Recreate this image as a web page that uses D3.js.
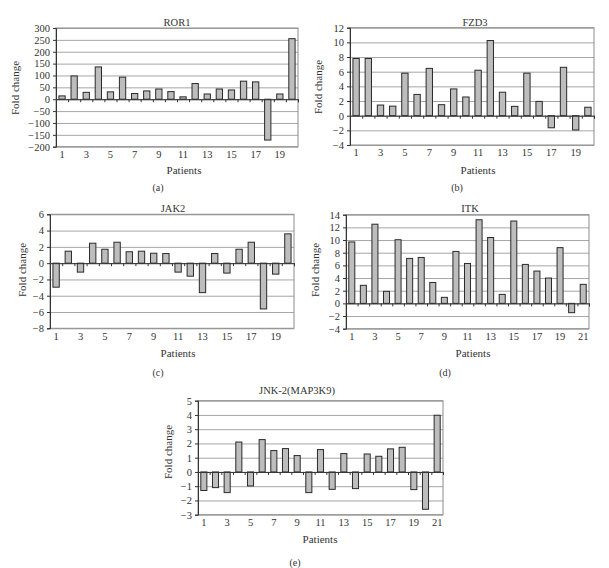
<!DOCTYPE html>
<html>
<head>
<meta charset="utf-8">
<script src="https://cdn.jsdelivr.net/npm/d3@7"></script>
<style>
  html, body { margin: 0; padding: 0; background: #fff; }
  text { font-family: "Liberation Serif", "DejaVu Serif", serif; fill: #333; }
</style>
</head>
<body>
<svg id="chart" width="609" height="568"></svg>
<script>
// ---------- DATA ----------
const ror1Values = [14, 98, 29, 136, 31, 93, 24, 35, 43, 32, 10, 66, 22, 43, 39, 76, 73, -172, 22, 255];
const fzd3Values = [7.8, 7.8, 1.45, 1.3, 5.8, 2.9, 6.45, 1.5, 3.65, 2.55, 6.2, 10.25, 3.2, 1.27, 5.8, 1.95, -1.65, 6.6, -1.95, 1.15];
const jak2Values = [-2.95, 1.47, -1.1, 2.45, 1.71, 2.57, 1.4, 1.47, 1.22, 1.18, -1.1, -1.6, -3.62, 1.18, -1.22, 1.71, 2.57, -5.62, -1.35, 3.6];
const itkValues = [9.7, 2.85, 12.5, 1.9, 10.05, 7.1, 7.25, 3.3, 0.95, 8.2, 6.3, 13.2, 10.4, 1.42, 13.0, 6.15, 5.1, 4.0, 8.8, -1.47, 3.0];
const jnk2Values = [-1.3, -1.1, -1.45, 2.1, -0.98, 2.27, 1.5, 1.64, 1.15, -1.45, 1.57, -1.22, 1.29, -1.17, 1.26, 1.1, 1.62, 1.73, -1.24, -2.62, 3.98];

const titles = ["ROR1", "FZD3", "JAK2", "ITK", "JNK-2(MAP3K9)"];
const captions = ["(a)", "(b)", "(c)", "(d)", "(e)"];
const yTicksRor1 = d3.range(-200, 301, 50);
const yTicksFzd3 = d3.range(-4, 13, 2);
const yTicksJak2 = d3.range(-8, 7, 2);
const yTicksItk = d3.range(-4, 15, 2);
const yTicksJnk2 = d3.range(-3, 6, 1);
const xLabel = "Patients";
const yLabel = "Fold change";

// ---------- LAYOUT ----------
const panels = [
  { values: ror1Values, ticks: yTicksRor1, box: [56, 298, 28, 146.7], title: [177, 22], ylab: [15, 88], xlab: [184, 170], cap: [158, 187] },
  { values: fzd3Values, ticks: yTicksFzd3, box: [350, 594, 27.7, 145], title: [475, 22], ylab: [318, 87], xlab: [478, 170], cap: [457, 187] },
  { values: jak2Values, ticks: yTicksJak2, box: [50, 294, 214.3, 328.3], title: [173, 208], ylab: [22, 270], xlab: [178, 353], cap: [158, 372] },
  { values: itkValues, ticks: yTicksItk, box: [346, 589, 214.7, 328.7], title: [470, 208], ylab: [315, 270], xlab: [473, 353], cap: [445, 372] },
  { values: jnk2Values, ticks: yTicksJnk2, box: [198, 443, 400.7, 514.7], title: [297, 390], ylab: [168, 452], xlab: [320, 539], cap: [295, 562] }
];

const svg = d3.select("#chart");
const fs = 10.5;

panels.forEach((p, i) => {
  const [x0, x1, y0, y1] = p.box;
  const cats = p.values.map((d, j) => j + 1);
  const x = d3.scaleBand().domain(cats).range([x0, x1]).paddingInner(0.48).paddingOuter(0.24);
  const y = d3.scaleLinear().domain([d3.min(p.ticks), d3.max(p.ticks)]).range([y1, y0]);
  const g = svg.append("g");

  // gridlines
  g.append("g").selectAll("line").data(p.ticks).join("line")
    .attr("x1", x0).attr("x2", x1)
    .attr("y1", d => y(d) + 0.5).attr("y2", d => y(d) + 0.5)
    .attr("stroke", "#a6a6a6").attr("stroke-width", 1);

  // plot border
  g.append("rect").attr("x", x0).attr("y", y0).attr("width", x1 - x0).attr("height", y1 - y0)
    .attr("fill", "none").attr("stroke", "#8c8c8c").attr("stroke-width", 1);

  // bars
  g.append("g").selectAll("rect").data(p.values).join("rect")
    .attr("x", (d, j) => x(j + 1))
    .attr("width", x.bandwidth())
    .attr("y", d => y(Math.max(0, d)))
    .attr("height", d => Math.abs(y(d) - y(0)))
    .attr("fill", "#bdbdbd").attr("stroke", "#2a2a2a").attr("stroke-width", 1);

  // y axis
  const ya = g.append("g").attr("transform", `translate(${x0},0)`)
    .call(d3.axisLeft(y).tickValues(p.ticks).tickSize(3).tickPadding(3).tickFormat(d3.format("d")));
  ya.select(".domain").attr("stroke", "#333");
  ya.selectAll(".tick line").attr("stroke", "#333");
  ya.selectAll("text").style("font-size", fs + "px").attr("fill", "#333").style("font-family", '"Liberation Serif", serif');

  // zero line with category separator ticks
  const step = x.step();
  const sepScale = d3.scaleLinear().domain([0, cats.length]).range([x0, x1]);
  const za = g.append("g").attr("transform", `translate(0,${y(0)})`)
    .call(d3.axisBottom(sepScale).tickValues(d3.range(0, cats.length + 1)).tickSize(3).tickFormat(""));
  za.select(".domain").attr("stroke", "#333");
  za.selectAll(".tick line").attr("stroke", "#333");

  // x tick labels at bottom
  const labelCats = cats.filter(c => c % 2 === 1);
  const xa = g.append("g").attr("transform", `translate(0,${y1})`)
    .call(d3.axisBottom(x).tickValues(labelCats).tickSize(0).tickPadding(4));
  xa.select(".domain").remove();
  xa.selectAll("text").style("font-size", fs + "px").attr("fill", "#333").style("font-family", '"Liberation Serif", serif');

  // title
  g.append("text").attr("x", p.title[0]).attr("y", p.title[1]).attr("text-anchor", "middle")
    .attr("dominant-baseline", "central").style("font-size", fs + "px").text(titles[i]);
  // y label
  g.append("text").attr("transform", `translate(${p.ylab[0]},${p.ylab[1]}) rotate(-90)`)
    .attr("text-anchor", "middle").attr("dominant-baseline", "central").style("font-size", "11px").text(yLabel);
  // x label
  g.append("text").attr("x", p.xlab[0]).attr("y", p.xlab[1]).attr("text-anchor", "middle")
    .attr("dominant-baseline", "central").style("font-size", "11px").text(xLabel);
  // caption
  g.append("text").attr("x", p.cap[0]).attr("y", p.cap[1]).attr("text-anchor", "middle")
    .attr("dominant-baseline", "central").style("font-size", "10px").text(captions[i]);
});
</script>
</body>
</html>
